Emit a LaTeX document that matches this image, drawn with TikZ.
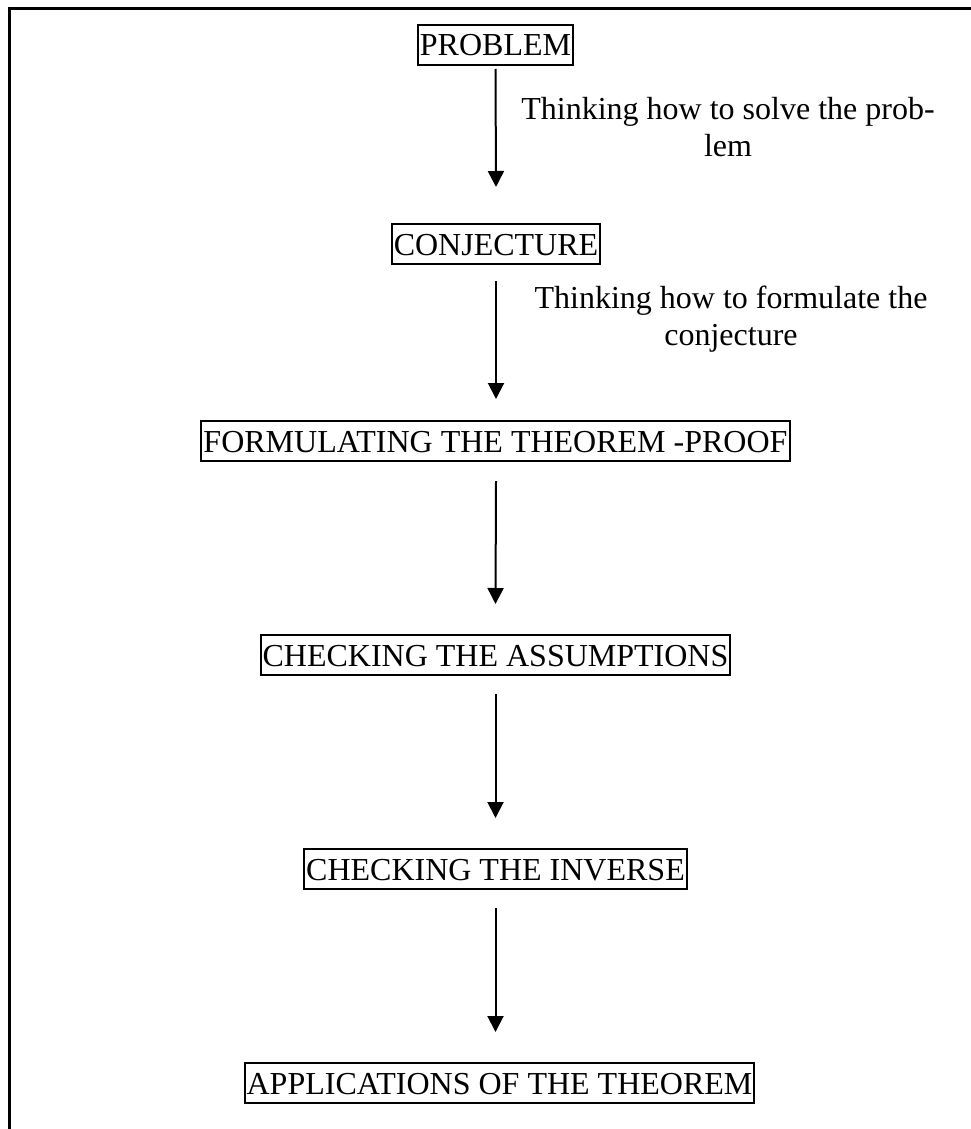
\documentclass[tikz,border=0pt]{standalone}
\usepackage{fontspec}
\setmainfont{Liberation Serif}
\usetikzlibrary{arrows.meta}
\tikzset{
  stepbox/.style={draw, line width=2pt, inner xsep=2pt, inner ysep=0pt,
    text height=31pt, text depth=9pt, font=\fontsize{32}{37}\selectfont},
  lbl/.style={align=center, inner sep=0pt, anchor=base, font=\fontsize{32}{37}\selectfont},
  arr/.style={line width=2pt, -{Triangle[width=16pt,length=16pt]}},
  frame/.style={line width=3pt, line cap=butt}
}
\begin{document}
\begin{tikzpicture}[x=1pt,y=-1pt]
\useasboundingbox (0,0) rectangle (971,1129);
\coordinate (fbl) at (9.5,1129);
\coordinate (ftl) at (9.5,8.5);
\coordinate (ftr) at (971,8.5);
\draw[frame] (fbl) -- (ftl) -- (ftr);

\node[stepbox] (p) at (495.5,45) {PROBLEM};
\node[stepbox] (c) at (496,244) {CONJECTURE};
\node[stepbox] (f) at (495.5,441) {FORMULATING THE THEOREM -PROOF};
\node[stepbox] (a) at (495.5,655) {CHECKING THE ASSUMPTIONS};
\node[stepbox] (i) at (495.5,869) {CHECKING THE INVERSE};
\node[stepbox] (ap) at (499.5,1083) {APPLICATIONS OF THE THEOREM};

\node[lbl] (l1) at (728,157) {Thinking how to solve the prob-\\lem};
\node[lbl] (l2) at (731,345) {Thinking how to formulate the\\conjecture};

\draw[arr] ([yshift=-3pt]p.south) -- ([yshift=36pt]c.north);
\draw[arr] ([yshift=-16pt]c.south) -- ([yshift=21pt]c.south |- f.north);
\draw[arr] ([yshift=-19pt]c.south |- f.south) -- ([yshift=30pt]a.north);
\draw[arr] ([yshift=-18pt]a.south) -- ([yshift=30pt]i.north);
\draw[arr] ([yshift=-18pt]i.south) -- ([yshift=30pt]i.south |- ap.north);
\end{tikzpicture}
\end{document}
